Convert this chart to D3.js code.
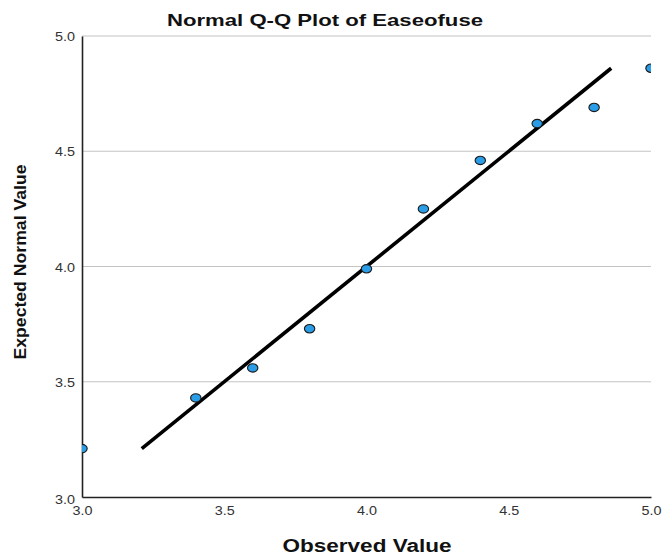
<!DOCTYPE html>
<html>
<head>
<meta charset="utf-8">
<script src="https://cdn.jsdelivr.net/npm/d3@7"></script>
<style>
  html, body { margin: 0; padding: 0; background: #fff; }
  svg { display: block; font-family: Arial, "Liberation Sans", sans-serif; }
</style>
</head>
<body>
<svg id="chart" width="662" height="556"></svg>
<script>
// ---- data ----
const observed = [3.0, 3.4, 3.6, 3.8, 4.0, 4.2, 4.4, 4.6, 4.8, 5.0];
const expected = [3.21, 3.43, 3.56, 3.73, 3.99, 4.25, 4.46, 4.62, 4.69, 4.86];
const refLine = [3.21, 4.86];
const xTicks = [3.0, 3.5, 4.0, 4.5, 5.0];
const yTicks = [3.0, 3.5, 4.0, 4.5, 5.0];
const titleText = "Normal Q-Q Plot of Easeofuse";
const xLabel = "Observed Value";
const yLabel = "Expected Normal Value";

const svg = d3.select("#chart");
const pL = 82, pR = 651, pT = 36, pB = 497;

const x = d3.scaleLinear().domain([3, 5]).range([pL, pR]);
const y = d3.scaleLinear().domain([3, 5]).range([pB, pT]);

// clip
svg.append("defs").append("clipPath").attr("id", "plotclip")
  .append("rect").attr("x", pL).attr("y", pT - 10)
  .attr("width", pR - pL).attr("height", pB - pT + 10);

// gridlines
svg.append("g").selectAll("line").data(yTicks.filter(d => d > 3))
  .join("line")
  .attr("x1", pL).attr("x2", pR)
  .attr("y1", d => y(d)).attr("y2", d => y(d))
  .attr("stroke", "#c4c4c4").attr("stroke-width", 1.2);

// axes
const xAxis = svg.append("g").attr("transform", `translate(0,${pB})`)
  .call(d3.axisBottom(x).tickValues(xTicks).tickFormat(d3.format(".1f")).tickSize(0).tickPadding(9));
const yAxis = svg.append("g").attr("transform", `translate(${pL},0)`)
  .call(d3.axisLeft(y).tickValues(yTicks).tickFormat(d3.format(".1f")).tickSize(0).tickPadding(7));

[xAxis, yAxis].forEach(a => {
  a.select(".domain").attr("stroke", "#222").attr("stroke-width", 1.6);
  a.selectAll("text")
    .attr("font-size", 12.5)
    .attr("fill", "#333")
    .attr("font-family", "Arial, 'Liberation Sans', sans-serif")
    .attr("textLength", 20)
    .attr("lengthAdjust", "spacingAndGlyphs");
});
yAxis.selectAll("text").attr("dy", "0.36em");
yAxis.selectAll(".tick").filter(d => d === 3).select("text").attr("dy", "0.5em");

// reference line
svg.append("line")
  .attr("x1", x(refLine[0])).attr("y1", y(refLine[0]))
  .attr("x2", x(refLine[1])).attr("y2", y(refLine[1]))
  .attr("stroke", "#000").attr("stroke-width", 3.6);

// points
const pts = observed.map((d, i) => ({ o: d, e: expected[i] }));
svg.append("g").attr("clip-path", "url(#plotclip)")
  .selectAll("ellipse").data(pts).join("ellipse")
  .attr("cx", d => x(d.o)).attr("cy", d => y(d.e))
  .attr("rx", 5.2).attr("ry", 4.2)
  .attr("fill", "#2a9de6").attr("stroke", "#1a1a1a").attr("stroke-width", 1.1);

// title
svg.append("text")
  .attr("x", 325).attr("y", 26)
  .attr("text-anchor", "middle")
  .attr("font-size", 17).attr("font-weight", "bold").attr("fill", "#111")
  .attr("textLength", 316).attr("lengthAdjust", "spacingAndGlyphs")
  .text(titleText);

// x label
svg.append("text")
  .attr("x", 367).attr("y", 552)
  .attr("text-anchor", "middle")
  .attr("font-size", 17.5).attr("font-weight", "bold").attr("fill", "#111")
  .attr("textLength", 169).attr("lengthAdjust", "spacingAndGlyphs")
  .text(xLabel);

// y label
svg.append("text")
  .attr("transform", "translate(26,262) rotate(-90)")
  .attr("text-anchor", "middle")
  .attr("font-size", 17).attr("font-weight", "bold").attr("fill", "#111")
  .attr("textLength", 195).attr("lengthAdjust", "spacingAndGlyphs")
  .text(yLabel);
</script>
</body>
</html>
